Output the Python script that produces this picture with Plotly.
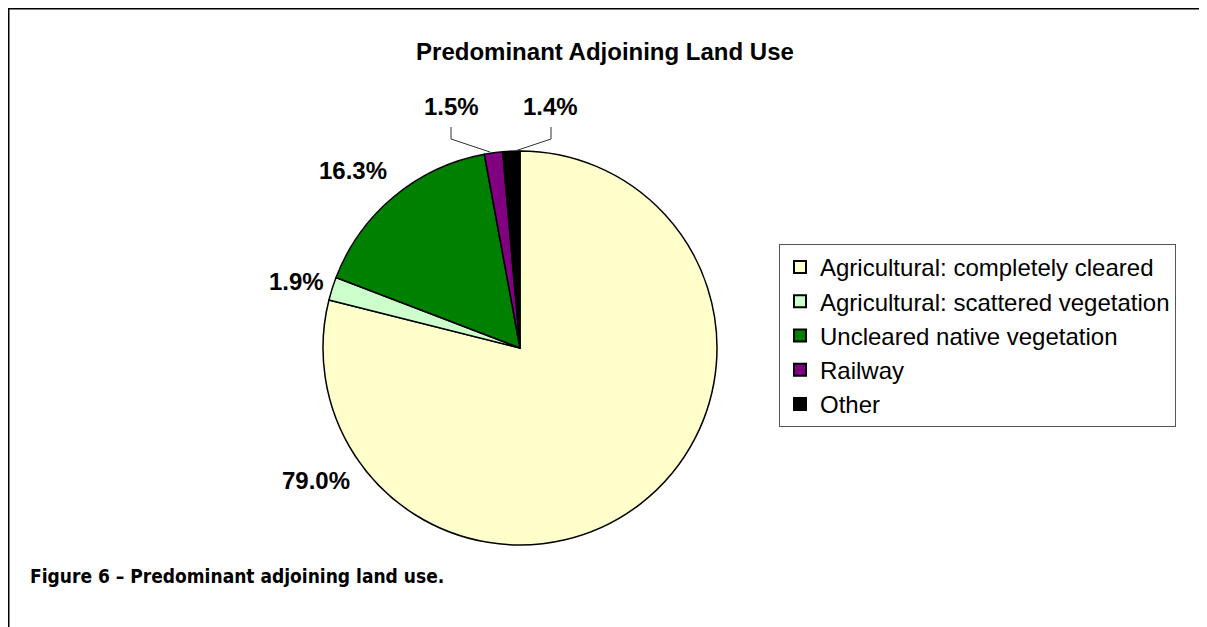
import plotly.graph_objects as go

# data
categories = ['Agricultural: completely cleared', 'Agricultural: scattered vegetation',
              'Uncleared native vegetation', 'Railway', 'Other']
shares = [79.0, 1.9, 16.3, 1.5, 1.4]
colours = ['#FFFFCC', '#CCFFCC', '#008000', '#800080', '#000000']

# where the percentage labels sit (pixels from top-left of the figure)
label_pos = [(308, 472), (288, 274), (345, 163), (444, 98), (542, 98)]

# page body adds an 8px margin, so figure is 8px smaller than the window
W, H = 1199, 619
FONT = 'Liberation Sans, Arial'


def px(x):
    return x / W


def py(y):
    return 1 - y / H


cx, cy, r = 512, 340, 197

fig = go.Figure(go.Pie(
    labels=categories,
    values=shares,
    sort=False,
    direction='clockwise',
    rotation=0,
    marker=dict(colors=colours, line=dict(color='black', width=1.5)),
    textinfo='none',
    hoverinfo='label+value',
    domain=dict(x=[px(cx - r), px(cx + r)], y=[py(cy + r), py(cy - r)]),
))

fig.update_layout(
    width=W, height=H,
    margin=dict(l=0, r=0, t=0, b=0),
    paper_bgcolor='white',
    title=dict(text='<b>Predominant Adjoining Land Use</b>', x=px(597), xanchor='center',
               y=py(44), yanchor='middle',
               font=dict(family=FONT, size=24, color='black')),
    legend=dict(x=px(771), xanchor='left', y=py(236), yanchor='top',
                bordercolor='#555555', borderwidth=1,
                font=dict(family=FONT, size=24, color='black'),
                itemsizing='constant'),
    showlegend=True,
)

# percentage labels
for v, (x, y) in zip(shares, label_pos):
    fig.add_annotation(text=f'<b>{v:.1f}%</b>', x=px(x), y=py(y), xref='paper', yref='paper',
                       xanchor='center', yanchor='middle', showarrow=False,
                       font=dict(family=FONT, size=24, color='black'))

# leader lines for the two thin slices
for pts in [[(443, 119), (443, 131), (482, 144)], [(543, 119), (543, 131), (507, 143)]]:
    path = 'M ' + ' L '.join(f'{px(x)} {py(y)}' for x, y in pts)
    fig.add_shape(type='path', path=path, xref='paper', yref='paper',
                  line=dict(color='#333333', width=1))

# caption under the chart
fig.add_annotation(text='<b>Figure 6 – Predominant adjoining land use.</b>',
                   x=px(20), xref='paper', xanchor='left', y=py(568), yref='paper', yanchor='middle',
                   showarrow=False,
                   font=dict(family='Liberation Sans Narrow, DejaVu Sans Condensed, sans-serif', size=19, color='black'))

# page frame (top and left edges)
fig.add_shape(type='line', xref='paper', yref='paper', x0=0, x1=1, y0=py(0.5), y1=py(0.5),
              line=dict(color='black', width=2))
fig.add_shape(type='line', xref='paper', yref='paper', x0=px(0.5), x1=px(0.5), y0=0, y1=1,
              line=dict(color='black', width=2))

fig.write_html('out.html')
